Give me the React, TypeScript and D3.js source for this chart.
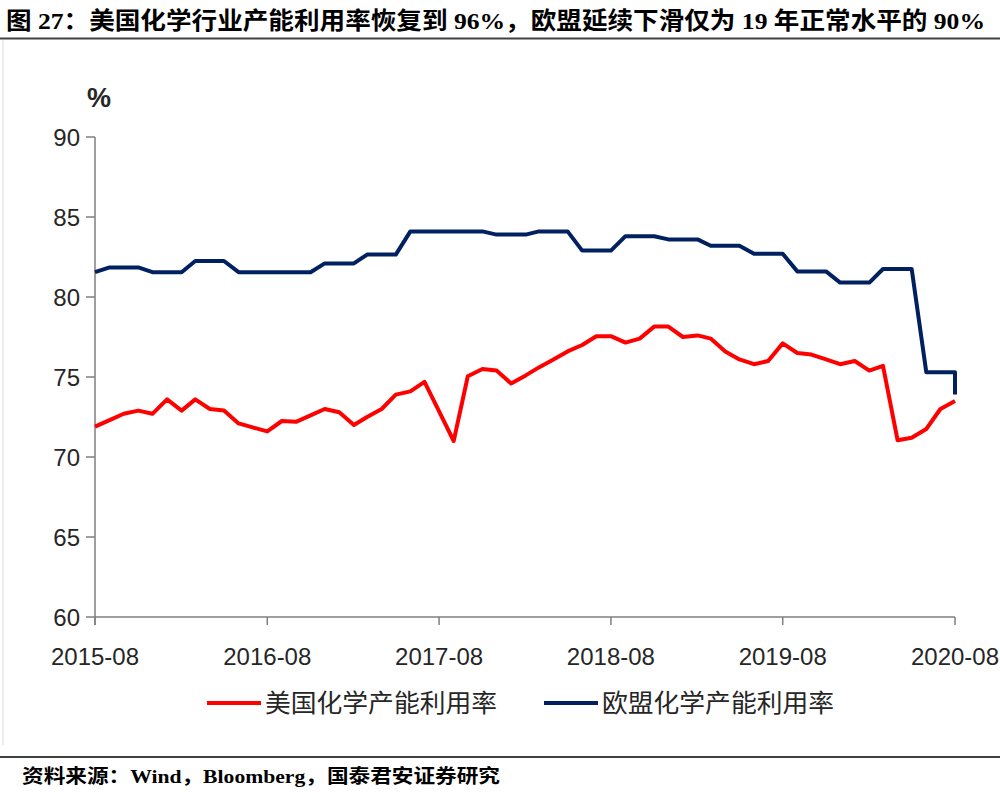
import React from "react";
import * as d3 from "d3";

const titleText = "图 27：美国化学行业产能利用率恢复到 96%，欧盟延续下滑仅为 19 年正常水平的 90%";
const sourceText = "资料来源：Wind，Bloomberg，国泰君安证券研究";
const seriesNames = ["美国化学产能利用率", "欧盟化学产能利用率"];
const seriesColors = ["#FF0000", "#002060"];

const startMonth = new Date(2015, 7, 1);
const endMonth = new Date(2020, 7, 1);
const months = d3.timeMonth.range(startMonth, d3.timeMonth.offset(endMonth, 1));

const usValues = [
  71.9, 72.3, 72.7, 72.9, 72.7, 73.6, 72.9, 73.6, 73.0, 72.9,
  72.1, 71.85, 71.6, 72.25, 72.2, 72.6, 73.0, 72.8, 72.0, 72.5,
  73.0, 73.9, 74.1, 74.7, 72.85, 71.0, 75.05, 75.5, 75.4, 74.6,
  75.1, 75.6, 76.1, 76.6, 77.0, 77.55, 77.55, 77.15, 77.4, 78.15,
  78.15, 77.5, 77.6, 77.4, 76.6, 76.1, 75.8, 76.0, 77.1, 76.5,
  76.4, 76.1, 75.8, 76.0, 75.4, 75.7, 71.05, 71.2, 71.75, 73.0,
  73.5,
];

const euValues = [
  81.55, 81.85, 81.85, 81.85, 81.55, 81.55, 81.55, 82.25, 82.25, 82.25,
  81.55, 81.55, 81.55, 81.55, 81.55, 81.55, 82.1, 82.1, 82.1, 82.65,
  82.65, 82.65, 84.1, 84.1, 84.1, 84.1, 84.1, 84.1, 83.9, 83.9,
  83.9, 84.1, 84.1, 84.1, 82.9, 82.9, 82.9, 83.8, 83.8, 83.8,
  83.6, 83.6, 83.6, 83.2, 83.2, 83.2, 82.7, 82.7, 82.7, 81.6,
  81.6, 81.6, 80.9, 80.9, 80.9, 81.75, 81.75, 81.75, 75.3, 75.3,
  75.3,
];
const euLastValue = 73.9;

const yTicks = [60, 65, 70, 75, 80, 85, 90];
const xTickLabels = ["2015-08", "2016-08", "2017-08", "2018-08", "2019-08", "2020-08"];

const parseMonth = d3.timeParse("%Y-%m");

export default function App() {
  const W = 1000;
  const H = 792;
  const plot = { left: 95, right: 955, top: 137, bottom: 617 };

  const x = d3.scaleTime().domain([startMonth, endMonth]).range([plot.left, plot.right]);
  const y = d3.scaleLinear().domain([60, 90]).range([plot.bottom, plot.top]);

  type P = { d: Date; v: number };
  const usPts: P[] = months.map((d, i) => ({ d, v: usValues[i] }));
  const euPts: P[] = months.map((d, i) => ({ d, v: euValues[i] }));
  euPts.push({ d: months[months.length - 1], v: euLastValue });

  const line = d3
    .line<P>()
    .x((p) => x(p.d))
    .y((p) => y(p.v));

  const axisColor = "#7f7f7f";
  const labelColor = "#262626";
  const sansFont = "'Liberation Sans', Arial, sans-serif";
  const cjkFont = "'Noto Sans CJK SC', sans-serif";
  const serifCjkFont = "'Liberation Serif', 'Noto Sans CJK SC', serif";

  return (
    <svg
      width={W}
      height={H}
      viewBox={`0 0 ${W} ${H}`}
      style={{ position: "absolute", left: 0, top: 0, background: "#fff" }}
    >
      <rect x={0} y={0} width={W} height={H} fill="#fff" />
      {/* title */}
      <text
        x={6}
        y={29}
        fontFamily={serifCjkFont}
        fontWeight={700}
        fontSize={24}
        fill="#000"
        textLength={979}
        lengthAdjust="spacingAndGlyphs"
      >
        {titleText}
      </text>
      <line x1={0} x2={W} y1={38.5} y2={38.5} stroke="#404040" strokeWidth={2} />
      <line x1={3} x2={3} y1={40} y2={745} stroke="#d9d9d9" strokeWidth={1} />

      {/* unit label */}
      <text x={99} y={107} textAnchor="middle" fontFamily={sansFont} fontWeight={700} fontSize={27} fill={labelColor}>
        %
      </text>

      {/* y axis */}
      <line x1={plot.left} x2={plot.left} y1={plot.top} y2={plot.bottom + 8} stroke={axisColor} strokeWidth={1.5} />
      {yTicks.map((t) => (
        <g key={t}>
          <line x1={plot.left - 9} x2={plot.left} y1={y(t)} y2={y(t)} stroke={axisColor} strokeWidth={1.5} />
          <text
            x={plot.left - 15}
            y={y(t)}
            dy="0.36em"
            textAnchor="end"
            fontFamily={sansFont}
            fontSize={24}
            fill={labelColor}
          >
            {t}
          </text>
        </g>
      ))}

      {/* x axis */}
      <line x1={plot.left} x2={plot.right} y1={plot.bottom} y2={plot.bottom} stroke={axisColor} strokeWidth={1.5} />
      {xTickLabels.map((lab) => {
        const d = parseMonth(lab) as Date;
        const px = x(d);
        return (
          <g key={lab}>
            <line x1={px} x2={px} y1={plot.bottom} y2={plot.bottom + 8} stroke={axisColor} strokeWidth={1.5} />
            <text
              x={px}
              y={plot.bottom + 48}
              textAnchor="middle"
              fontFamily={sansFont}
              fontSize={24}
              fill={labelColor}
            >
              {lab}
            </text>
          </g>
        );
      })}

      {/* series */}
      <path d={line(euPts) || ""} fill="none" stroke={seriesColors[1]} strokeWidth={4} strokeLinejoin="round" />
      <path d={line(usPts) || ""} fill="none" stroke={seriesColors[0]} strokeWidth={4} strokeLinejoin="round" />

      {/* legend */}
      {seriesNames.map((name, i) => {
        const lx = i === 0 ? 207 : 544;
        return (
          <g key={name}>
            <line x1={lx} x2={lx + 54} y1={703} y2={703} stroke={seriesColors[i]} strokeWidth={4} />
            <text
              x={lx + 58}
              y={712}
              fontFamily={cjkFont}
              fontSize={25}
              fill={labelColor}
              textLength={232}
              lengthAdjust="spacingAndGlyphs"
            >
              {name}
            </text>
          </g>
        );
      })}

      {/* footer */}
      <line x1={0} x2={W} y1={757} y2={757} stroke="#404040" strokeWidth={2} />
      <text
        x={22}
        y={783}
        fontFamily={serifCjkFont}
        fontWeight={700}
        fontSize={19}
        fill="#000"
        textLength={478}
        lengthAdjust="spacingAndGlyphs"
      >
        {sourceText}
      </text>
    </svg>
  );
}
